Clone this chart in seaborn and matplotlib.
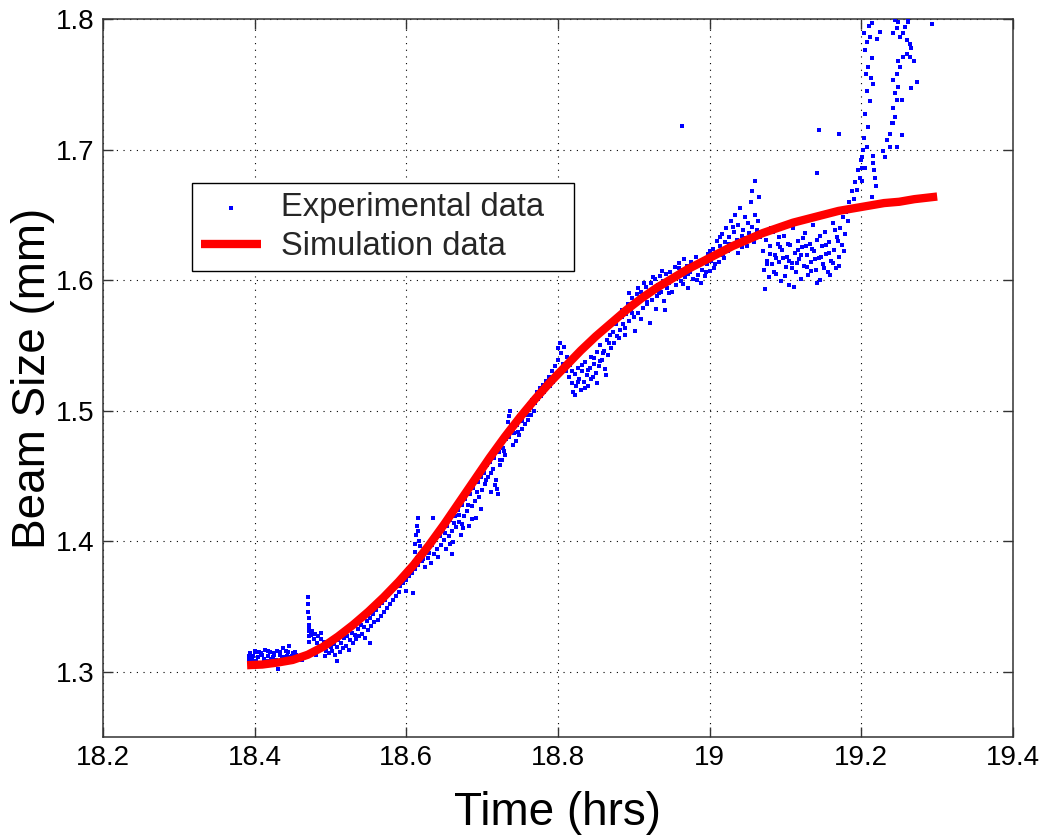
import numpy as np
import pandas as pd
import matplotlib
matplotlib.use("Agg")
import matplotlib.pyplot as plt
import seaborn as sns

# ---------------- simulation curve ----------------
sim_time = [18.39, 18.41, 18.43, 18.45, 18.47, 18.49, 18.51, 18.53, 18.55, 18.57,
            18.59, 18.61, 18.63, 18.65, 18.67, 18.69, 18.71, 18.73, 18.75, 18.77,
            18.79, 18.81, 18.83, 18.85, 18.87, 18.89, 18.91, 18.93, 18.95, 18.97,
            18.99, 19.01, 19.03, 19.05, 19.07, 19.09, 19.11, 19.13, 19.15, 19.17,
            19.19, 19.21, 19.23, 19.25, 19.27, 19.30]
sim_size = [1.305, 1.3055, 1.307, 1.309, 1.313, 1.319, 1.327, 1.336, 1.346, 1.357,
            1.369, 1.382, 1.397, 1.413, 1.430, 1.447, 1.464, 1.480, 1.495, 1.509,
            1.522, 1.534, 1.546, 1.557, 1.567, 1.577, 1.586, 1.594, 1.601, 1.608,
            1.614, 1.620, 1.626, 1.631, 1.636, 1.640, 1.644, 1.647, 1.650, 1.653,
            1.655, 1.657, 1.659, 1.660, 1.662, 1.664]

a_time = [18.392, 18.394, 18.396, 18.398, 18.400, 18.402, 18.404, 18.406, 18.408, 18.410,
          18.412, 18.414, 18.416, 18.418, 18.420, 18.422, 18.424, 18.426, 18.428, 18.430,
          18.432, 18.434, 18.436, 18.438, 18.440, 18.442, 18.444, 18.446, 18.448, 18.450,
          18.452, 18.454, 18.456, 18.458, 18.462, 18.466, 18.431, 18.445,
          18.393, 18.397, 18.401, 18.405, 18.409, 18.413, 18.417, 18.421, 18.425, 18.429,
          18.433, 18.437, 18.441, 18.445, 18.449, 18.453]
a_size = [1.309, 1.314, 1.307, 1.312, 1.316, 1.308, 1.311, 1.315, 1.306, 1.313,
          1.310, 1.317, 1.308, 1.312, 1.315, 1.307, 1.311, 1.314, 1.309, 1.316,
          1.308, 1.313, 1.310, 1.318, 1.307, 1.312, 1.315, 1.309, 1.311, 1.314,
          1.308, 1.313, 1.310, 1.312, 1.309, 1.313, 1.302, 1.320,
          1.312, 1.309, 1.315, 1.311, 1.314, 1.307, 1.316, 1.310, 1.313, 1.308,
          1.315, 1.311, 1.316, 1.309, 1.312, 1.315]

b_time = [18.470, 18.470, 18.470, 18.471, 18.471, 18.471, 18.472, 18.472,
          18.472, 18.474, 18.476, 18.478, 18.480, 18.482, 18.484, 18.486, 18.488, 18.490,
          18.492, 18.494, 18.496, 18.498, 18.500, 18.475, 18.481, 18.487, 18.493]
b_size = [1.357, 1.352, 1.346, 1.341, 1.336, 1.331, 1.327, 1.323,
          1.334, 1.328, 1.331, 1.325, 1.329, 1.322, 1.327, 1.320, 1.325, 1.318,
          1.323, 1.316, 1.321, 1.314, 1.319, 1.316, 1.313, 1.330, 1.312]

c_time = [18.502, 18.504, 18.506, 18.508, 18.510, 18.512, 18.514, 18.516, 18.518, 18.520,
          18.522, 18.524, 18.526, 18.528, 18.530, 18.532, 18.534, 18.536, 18.538, 18.540,
          18.542, 18.544, 18.546, 18.548, 18.550, 18.552, 18.554, 18.556, 18.558, 18.560,
          18.562, 18.564, 18.566, 18.568, 18.570, 18.572, 18.574, 18.576, 18.578, 18.580,
          18.582, 18.584, 18.586, 18.588, 18.590, 18.509, 18.552]
c_size = [1.316, 1.321, 1.313, 1.319, 1.324, 1.315, 1.322, 1.318, 1.326, 1.320,
          1.327, 1.317, 1.324, 1.330, 1.322, 1.328, 1.325, 1.333, 1.327, 1.336,
          1.329, 1.334, 1.326, 1.339, 1.332, 1.341, 1.335, 1.344, 1.338, 1.347,
          1.340, 1.350, 1.343, 1.353, 1.346, 1.355, 1.349, 1.359, 1.352, 1.362,
          1.355, 1.364, 1.358, 1.367, 1.361, 1.308, 1.322]

d_time = [18.592, 18.594, 18.596, 18.598, 18.600, 18.602, 18.604, 18.606, 18.608, 18.610,
          18.612, 18.614, 18.616, 18.618, 18.620,
          18.611, 18.612, 18.613, 18.614, 18.615, 18.616, 18.617, 18.618, 18.600, 18.609]
d_size = [1.366, 1.372, 1.368, 1.376, 1.370, 1.379, 1.373, 1.381, 1.376, 1.384,
          1.379, 1.387, 1.382, 1.390, 1.385,
          1.392, 1.398, 1.405, 1.412, 1.418, 1.408, 1.400, 1.396, 1.362, 1.360]

e_time = [18.622, 18.624, 18.626, 18.628, 18.630, 18.632, 18.634, 18.636, 18.638, 18.640,
          18.642, 18.644, 18.646, 18.648, 18.650, 18.652, 18.654, 18.656, 18.658, 18.660,
          18.662, 18.664, 18.666, 18.668, 18.670, 18.672, 18.674, 18.676, 18.678, 18.680,
          18.682, 18.684, 18.686, 18.688, 18.690, 18.692, 18.694, 18.696, 18.698, 18.700,
          18.660, 18.674, 18.635]
e_size = [1.386, 1.380, 1.393, 1.387, 1.391, 1.383, 1.397, 1.390, 1.401, 1.394,
          1.388, 1.404, 1.397, 1.409, 1.401, 1.394, 1.412, 1.404, 1.416, 1.408,
          1.399, 1.419, 1.411, 1.424, 1.415, 1.405, 1.428, 1.419, 1.432, 1.423,
          1.412, 1.436, 1.427, 1.441, 1.431, 1.418, 1.445, 1.434, 1.449, 1.439,
          1.390, 1.413, 1.418]

f_time = [18.702, 18.704, 18.706, 18.708, 18.710, 18.712, 18.714, 18.716, 18.718, 18.720,
          18.721, 18.722, 18.724]
f_size = [1.452, 1.444, 1.458, 1.449, 1.461, 1.438, 1.455, 1.464, 1.447, 1.440,
          1.436, 1.468, 1.458]

g_time = [18.726, 18.728, 18.730, 18.732, 18.734, 18.736, 18.737, 18.738, 18.740, 18.742,
          18.744, 18.746, 18.748, 18.750, 18.752, 18.754, 18.756, 18.758, 18.760, 18.762,
          18.764, 18.766, 18.768]
g_size = [1.462, 1.471, 1.466, 1.478, 1.491, 1.496, 1.500, 1.488, 1.474, 1.483,
          1.477, 1.489, 1.481, 1.494, 1.486, 1.498, 1.490, 1.502, 1.493, 1.505,
          1.497, 1.508, 1.500]

h_time = [18.770, 18.772, 18.774, 18.776, 18.778, 18.780, 18.782, 18.784, 18.786, 18.788,
          18.790, 18.792, 18.794, 18.796, 18.798, 18.800,
          18.800, 18.802, 18.804, 18.806, 18.808, 18.810, 18.812, 18.814, 18.816]
h_size = [1.506, 1.514, 1.509, 1.517, 1.511, 1.520, 1.514, 1.523, 1.517, 1.526,
          1.519, 1.530, 1.522, 1.534, 1.527, 1.539,
          1.548, 1.552, 1.544, 1.536, 1.549, 1.530, 1.541, 1.526, 1.535]

i_time = [18.818, 18.820, 18.822, 18.824, 18.826, 18.828, 18.830, 18.832, 18.834, 18.836,
          18.838, 18.840, 18.842, 18.844, 18.846, 18.848, 18.850, 18.852, 18.854, 18.856,
          18.858, 18.860, 18.862, 18.864, 18.866, 18.868, 18.870]
i_size = [1.521, 1.514, 1.528, 1.519, 1.533, 1.524, 1.516, 1.530, 1.522, 1.537,
          1.527, 1.519, 1.533, 1.541, 1.526, 1.536, 1.529, 1.545, 1.534, 1.550,
          1.539, 1.546, 1.532, 1.554, 1.543, 1.558, 1.548]

j_time = [18.872, 18.874, 18.876, 18.878, 18.880, 18.882, 18.884, 18.886, 18.888, 18.890,
          18.892, 18.894, 18.896, 18.898, 18.900, 18.902, 18.904, 18.906, 18.908, 18.910,
          18.912, 18.914, 18.916, 18.918, 18.920, 18.922, 18.924, 18.926, 18.928, 18.930,
          18.932, 18.934, 18.936, 18.938, 18.940, 18.942, 18.944]
j_size = [1.560, 1.552, 1.566, 1.557, 1.571, 1.562, 1.577, 1.566, 1.558, 1.574,
          1.582, 1.569, 1.578, 1.586, 1.572, 1.581, 1.589, 1.575, 1.584, 1.591,
          1.579, 1.587, 1.595, 1.582, 1.590, 1.598, 1.585, 1.593, 1.601, 1.588,
          1.596, 1.603, 1.591, 1.599, 1.584, 1.605, 1.594]

k_time = [18.946, 18.948, 18.950, 18.952, 18.954, 18.956, 18.958, 18.960, 18.962, 18.964,
          18.966, 18.968, 18.970, 18.972, 18.974, 18.976, 18.978, 18.980, 18.982, 18.984,
          18.986, 18.988, 18.990, 18.992, 18.994, 18.996, 18.998, 19.000, 18.963]
k_size = [1.598, 1.606, 1.591, 1.602, 1.610, 1.596, 1.605, 1.613, 1.599, 1.608,
          1.616, 1.602, 1.611, 1.594, 1.606, 1.614, 1.601, 1.610, 1.618, 1.604,
          1.613, 1.598, 1.608, 1.616, 1.603, 1.612, 1.620, 1.607, 1.718]

l_time = [19.002, 19.004, 19.006, 19.008, 19.010, 19.012, 19.014, 19.016, 19.018, 19.020,
          19.022, 19.024, 19.026, 19.028, 19.030, 19.032, 19.034, 19.036, 19.038, 19.040,
          19.042, 19.044, 19.046, 19.048, 19.050, 19.052, 19.054, 19.056, 19.058, 19.060,
          19.062, 19.064, 19.066, 19.056, 19.060, 19.065]
l_size = [1.615, 1.624, 1.609, 1.620, 1.630, 1.614, 1.626, 1.635, 1.619, 1.629,
          1.640, 1.622, 1.633, 1.645, 1.627, 1.637, 1.650, 1.631, 1.642, 1.655,
          1.625, 1.638, 1.648, 1.632, 1.644, 1.636, 1.660, 1.641, 1.629, 1.650,
          1.638, 1.645, 1.633, 1.668, 1.676, 1.664]

m_time = [19.070, 19.072, 19.074, 19.076, 19.078, 19.080, 19.082, 19.084, 19.086, 19.088,
          19.090, 19.092, 19.094, 19.096, 19.098, 19.100, 19.102, 19.104, 19.106, 19.108,
          19.110, 19.112, 19.114, 19.116, 19.118, 19.120, 19.122, 19.124, 19.126, 19.128,
          19.130, 19.132, 19.134, 19.136, 19.138, 19.140, 19.142, 19.144, 19.146, 19.148,
          19.150, 19.152, 19.154, 19.156, 19.158, 19.160, 19.162, 19.164, 19.166, 19.168,
          19.170, 19.172, 19.174, 19.176, 19.178,
          19.073, 19.081, 19.087, 19.093, 19.099, 19.105, 19.111, 19.117, 19.123, 19.129,
          19.135, 19.141, 19.147, 19.153, 19.159, 19.165, 19.171, 19.177,
          19.075, 19.079, 19.085, 19.091, 19.097, 19.103, 19.109, 19.115, 19.121, 19.127,
          19.133, 19.139, 19.145, 19.151, 19.157, 19.163, 19.169]
m_size = [1.622, 1.608, 1.631, 1.615, 1.602, 1.626, 1.612, 1.637, 1.619, 1.605,
          1.628, 1.614, 1.599, 1.623, 1.634, 1.610, 1.618, 1.596, 1.627, 1.613,
          1.640, 1.621, 1.606, 1.630, 1.616, 1.601, 1.625, 1.611, 1.636, 1.619,
          1.604, 1.628, 1.614, 1.642, 1.622, 1.608, 1.631, 1.617, 1.600, 1.626,
          1.612, 1.637, 1.620, 1.606, 1.629, 1.615, 1.644, 1.623, 1.609, 1.633,
          1.618, 1.640, 1.627, 1.648, 1.635,
          1.593, 1.640, 1.617, 1.625, 1.603, 1.615, 1.595, 1.623, 1.632, 1.610,
          1.624, 1.598, 1.618, 1.627, 1.604, 1.638, 1.611, 1.622,
          1.612, 1.620, 1.606, 1.633, 1.617, 1.628, 1.609, 1.613, 1.619, 1.626,
          1.607, 1.616, 1.634, 1.609, 1.621, 1.613, 1.630]

n_time = [19.180, 19.182, 19.184, 19.186, 19.188, 19.190, 19.192, 19.194, 19.196, 19.198,
          19.200, 19.201, 19.202, 19.144, 19.170, 19.142]
n_size = [1.652, 1.645, 1.660, 1.655, 1.668, 1.662, 1.675, 1.669, 1.684, 1.678,
          1.692, 1.686, 1.700, 1.715, 1.712, 1.682]

o_time = [19.203, 19.208, 19.212, 19.205, 19.209, 19.213, 19.207, 19.211, 19.205, 19.209,
          19.203, 19.207, 19.201, 19.205, 19.201, 19.214, 19.216, 19.210, 19.206,
          19.215, 19.217, 19.218, 19.219, 19.214, 19.212, 19.216, 19.225, 19.221, 19.214]
o_size = [1.789, 1.782, 1.786, 1.776, 1.763, 1.755, 1.745, 1.737, 1.727, 1.717,
          1.709, 1.702, 1.694, 1.686, 1.676, 1.770, 1.750, 1.795, 1.758,
          1.690, 1.684, 1.678, 1.672, 1.664, 1.658, 1.695, 1.790, 1.785, 1.797]

p_time = [19.229, 19.234, 19.238, 19.240, 19.244, 19.242, 19.247, 19.244, 19.249, 19.242,
          19.247, 19.251, 19.249, 19.255, 19.260, 19.264, 19.269, 19.266, 19.260, 19.264,
          19.251, 19.255, 19.247, 19.258, 19.262, 19.249, 19.242, 19.273, 19.266, 19.253,
          19.242, 19.238, 19.231, 19.253, 19.247, 19.293, 19.245, 19.262]
p_size = [1.699, 1.707, 1.712, 1.720, 1.725, 1.732, 1.738, 1.743, 1.748, 1.753,
          1.758, 1.763, 1.768, 1.771, 1.773, 1.771, 1.768, 1.778, 1.784, 1.781,
          1.786, 1.789, 1.793, 1.794, 1.798, 1.798, 1.789, 1.752, 1.747, 1.738,
          1.720, 1.702, 1.694, 1.711, 1.702, 1.796, 1.799, 1.799]

q_time = [18.881, 18.885, 18.889, 18.893, 18.897, 18.901, 18.905, 18.909, 18.913, 18.917,
          18.921, 18.925, 18.929, 18.933, 18.937, 18.941]
q_size = [1.556, 1.572, 1.563, 1.590, 1.575, 1.561, 1.594, 1.570, 1.598, 1.583,
          1.567, 1.602, 1.578, 1.590, 1.607, 1.577]

r_time = [18.819, 18.823, 18.827, 18.831, 18.835, 18.839, 18.843, 18.847, 18.851, 18.855,
          18.859, 18.863, 18.867]
r_size = [1.530, 1.512, 1.522, 1.535, 1.517, 1.531, 1.524, 1.540, 1.521, 1.538,
          1.544, 1.527, 1.552]

s_time = [18.947, 18.953, 18.959, 18.965, 18.971, 18.977, 18.983, 18.989, 18.995, 19.001,
          19.007, 19.013, 19.019, 19.025, 19.031, 19.037, 19.043, 19.049]
s_size = [1.590, 1.603, 1.609, 1.597, 1.605, 1.612, 1.600, 1.615, 1.606, 1.622,
          1.612, 1.633, 1.617, 1.628, 1.641, 1.621, 1.634, 1.626]

t_time = [18.651, 18.657, 18.663, 18.669, 18.675, 18.681, 18.687, 18.693, 18.699, 18.705,
          18.711, 18.717, 18.723, 18.729, 18.735, 18.741, 18.747, 18.753, 18.759, 18.765]
t_size = [1.406, 1.398, 1.414, 1.420, 1.410, 1.428, 1.417, 1.438, 1.425, 1.447,
          1.452, 1.443, 1.462, 1.469, 1.480, 1.486, 1.484, 1.492, 1.497, 1.503]

x_ticks = [18.2, 18.4, 18.6, 18.8, 19.0, 19.2, 19.4]
x_tick_labels = ["18.2", "18.4", "18.6", "18.8", "19", "19.2", "19.4"]
y_ticks = [1.3, 1.4, 1.5, 1.6, 1.7, 1.8]
y_tick_labels = ["1.3", "1.4", "1.5", "1.6", "1.7", "1.8"]

exp_time = (a_time + b_time + c_time + d_time + e_time + f_time + g_time + h_time +
            i_time + j_time + k_time + l_time + m_time + n_time + o_time + p_time +
            q_time + r_time + s_time + t_time)
exp_size = (a_size + b_size + c_size + d_size + e_size + f_size + g_size + h_size +
            i_size + j_size + k_size + l_size + m_size + n_size + o_size + p_size +
            q_size + r_size + s_size + t_size)

exp_df = pd.DataFrame({"time": exp_time, "size": exp_size})
sim_df = pd.DataFrame({"time": sim_time, "size": sim_size})

# ---------------- style ----------------
sns.set_style("ticks")
plt.rcParams["font.family"] = ["Liberation Sans", "DejaVu Sans"]

fig = plt.figure(figsize=(10.47, 8.38), dpi=100)
ax = fig.add_axes([103 / 1047, 1 - 737 / 838, 910 / 1047, 718 / 838])

sns.scatterplot(data=exp_df, x="time", y="size", ax=ax, color="#0000ff",
                marker="s", s=8, linewidth=0, label="Experimental data", zorder=3)
sns.lineplot(data=sim_df, x="time", y="size", ax=ax, color="#ff0000",
             linewidth=6, estimator=None, sort=False, label="Simulation data",
             solid_capstyle="butt", solid_joinstyle="round", zorder=4)

ax.set_xlim(18.2, 19.4)
ax.set_ylim(1.25, 1.8)
ax.set_xticks(x_ticks)
ax.set_xticklabels(x_tick_labels)
ax.set_yticks(y_ticks)
ax.set_yticklabels(y_tick_labels)

ax.set_axisbelow(True)
ax.grid(True, color="black", linestyle=(0, (1, 5)), linewidth=0.8)

for sp in ax.spines.values():
    sp.set_visible(True)
    sp.set_color("#333333")
    sp.set_linewidth(1.1)

ax.tick_params(direction="in", length=7, width=1, colors="#333333",
               labelcolor="black", labelsize=20, pad=6,
               top=True, right=True, bottom=True, left=True)

ax.set_xlabel("Time (hrs)", fontsize=33, labelpad=14, color="black")
ax.set_ylabel("Beam Size (mm)", fontsize=33, labelpad=1, color="black")

leg_x0 = (192 - 103) / 910
leg_top = (737 - 183) / 718
leg_w = (574 - 192) / 910
leg = ax.legend(loc="upper left", bbox_to_anchor=(leg_x0, leg_top - 0.12, leg_w, 0.12),
                mode="expand", borderaxespad=0, frameon=True, fancybox=False,
                shadow=False, edgecolor="black", framealpha=1, fontsize=23.5,
                handlelength=1.84, handletextpad=0.6, labelspacing=0.25,
                borderpad=0.28, markerscale=1)
leg.get_frame().set_linewidth(1.0)

fig.savefig("out.png", dpi=100)
